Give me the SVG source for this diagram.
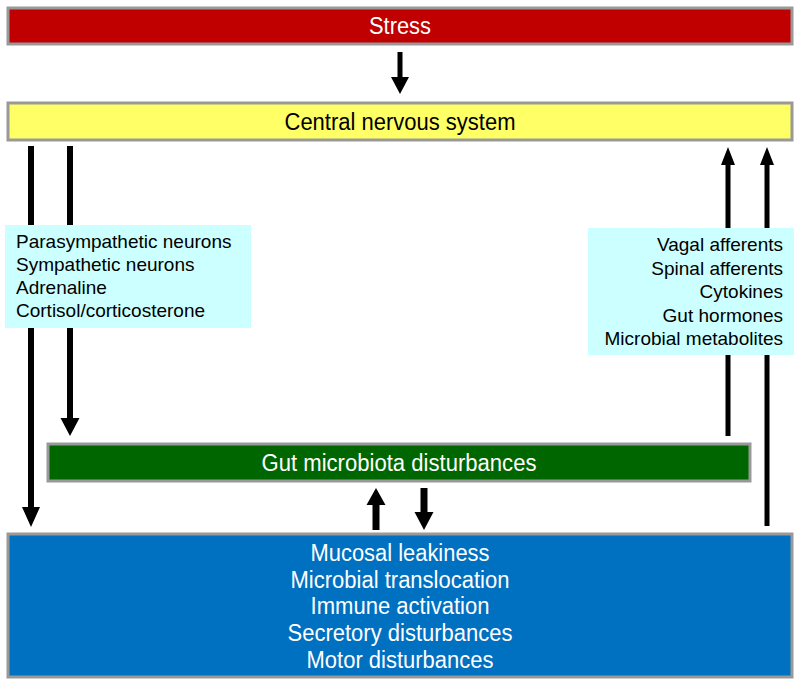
<svg xmlns="http://www.w3.org/2000/svg" width="800" height="685" viewBox="0 0 800 685">
<style>
.box{stroke:#999;stroke-width:3}
.info{fill:#CCFFFF}
.t{font-family:"Liberation Sans",Arial,sans-serif;font-size:19px}
.b{font-size:23px;text-anchor:middle}
.w{fill:#fff}
.k{fill:#000}
.arr{fill:#000;stroke:none}
</style>
<rect width="800" height="685" fill="#fff"/>
<g id="stress">
<rect class="box" x="8" y="8" width="784" height="36" fill="#C00000"/>
<text class="t b w" x="400" y="34" textLength="62" lengthAdjust="spacingAndGlyphs">Stress</text>
</g>
<g id="cns">
<rect class="box" x="8" y="103" width="784" height="37" fill="#FFFF66"/>
<text class="t b k" x="400" y="130" textLength="231" lengthAdjust="spacingAndGlyphs">Central nervous system</text>
</g>
<g id="gut">
<rect class="box" x="48" y="444" width="702" height="37" fill="#006600"/>
<text class="t b w" x="399" y="471" textLength="275" lengthAdjust="spacingAndGlyphs">Gut microbiota disturbances</text>
</g>
<g id="effects">
<rect class="box" x="8" y="534" width="784" height="143" fill="#0070C0"/>
<text class="t b w" x="400" y="561" textLength="179" lengthAdjust="spacingAndGlyphs">Mucosal leakiness</text>
<text class="t b w" x="400" y="588" textLength="219" lengthAdjust="spacingAndGlyphs">Microbial translocation</text>
<text class="t b w" x="400" y="614" textLength="179" lengthAdjust="spacingAndGlyphs">Immune activation</text>
<text class="t b w" x="400" y="641" textLength="225" lengthAdjust="spacingAndGlyphs">Secretory disturbances</text>
<text class="t b w" x="400" y="668" textLength="187" lengthAdjust="spacingAndGlyphs">Motor disturbances</text>
</g>
<g id="connectors">
<polygon class="arr" points="397.5,52 402.5,52 402.5,77 409,77 400,94 391,77 397.5,77"/>
<polygon class="arr" points="28,146 34,146 34,507 40,507 31,527 22,507 28,507"/>
<polygon class="arr" points="67,146 73,146 73,418 79.5,418 70,436 60.5,418 67,418"/>
<polygon class="arr" points="725.5,436 730.5,436 730.5,165 735,165 728,147 721,165 725.5,165"/>
<polygon class="arr" points="764.5,526 769.5,526 769.5,165 774,165 767,147 760,165 764.5,165"/>
<polygon class="arr" points="372.5,530 379.5,530 379.5,505 385.5,505 376,488 366.5,505 372.5,505"/>
<polygon class="arr" points="420.5,488 427.5,488 427.5,512 433.5,512 424,530 414.5,512 420.5,512"/>
</g>
<g id="efferent">
<rect class="info" x="5" y="225" width="246" height="103"/>
<text class="t k" x="16" y="248">Parasympathetic neurons</text>
<text class="t k" x="16" y="271">Sympathetic neurons</text>
<text class="t k" x="16" y="294">Adrenaline</text>
<text class="t k" x="16" y="317">Cortisol/corticosterone</text>
</g>
<g id="afferent">
<rect class="info" x="588" y="228" width="206" height="127"/>
<text class="t k" x="783" y="251" text-anchor="end">Vagal afferents</text>
<text class="t k" x="783" y="275" text-anchor="end">Spinal afferents</text>
<text class="t k" x="783" y="298" text-anchor="end">Cytokines</text>
<text class="t k" x="783" y="322" text-anchor="end">Gut hormones</text>
<text class="t k" x="783" y="345" text-anchor="end">Microbial metabolites</text>
</g>
</svg>
